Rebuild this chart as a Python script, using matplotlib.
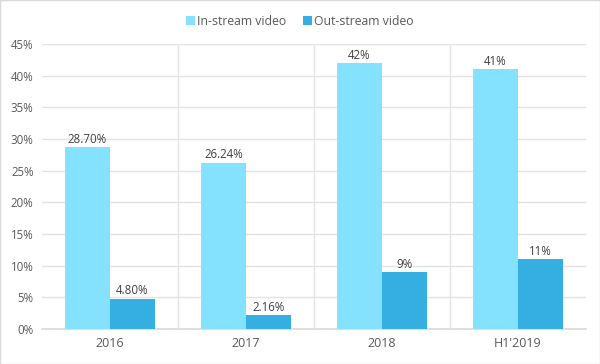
import matplotlib.pyplot as plt
import numpy as np
from matplotlib.ticker import FuncFormatter

categories = ["2016", "2017", "2018", "H1'2019"]
in_stream = [28.70, 26.24, 42, 41]
out_stream = [4.80, 2.16, 9, 11]
in_labels = ["28.70%", "26.24%", "42%", "41%"]
out_labels = ["4.80%", "2.16%", "9%", "11%"]

light = "#84E2FE"
dark = "#35AFE2"
text_col = "#595959"
grid_col = "#e3e3e3"

plt.rcParams['font.family'] = ['Open Sans', 'DejaVu Sans']

fig = plt.figure(figsize=(6, 3.64), dpi=100)
ax = fig.add_axes([42 / 600, 1 - 329 / 364, 544 / 600, 285 / 364])

x = np.arange(len(categories))
w = 0.33
b1 = ax.bar(x - w / 2, in_stream, w, color=light, label="In-stream video", zorder=3)
b2 = ax.bar(x + w / 2, out_stream, w, color=dark, label="Out-stream video", zorder=3)

for rect, lab in zip(b1, in_labels):
    ax.annotate(lab, (rect.get_x() + rect.get_width() / 2, rect.get_height()),
                xytext=(0, 1), textcoords="offset points", ha="center", va="bottom",
                fontsize=8.3, color="#404040")
for rect, lab in zip(b2, out_labels):
    ax.annotate(lab, (rect.get_x() + rect.get_width() / 2, rect.get_height()),
                xytext=(0, 1), textcoords="offset points", ha="center", va="bottom",
                fontsize=8.3, color="#404040")

ax.set_xlim(-0.5, len(categories) - 0.5)
ax.set_ylim(0, 45)
ax.set_yticks(np.arange(0, 46, 5))
ax.yaxis.set_major_formatter(FuncFormatter(lambda v, p: f"{v:.0f}%"))
ax.yaxis.grid(True, color=grid_col, linewidth=1, zorder=0)
for sep in np.arange(0.5, len(categories) - 0.5, 1):
    ax.axvline(sep, color=grid_col, linewidth=1, zorder=0)

ax.set_xticks(x)
ax.set_xticklabels(categories)
ax.tick_params(axis="both", length=0, colors=text_col, labelsize=8.3)
ax.tick_params(axis="x", pad=6, labelsize=9)
ax.tick_params(axis="y", pad=6)
for s in ["top", "right", "left"]:
    ax.spines[s].set_visible(False)
ax.spines["bottom"].set_color("#d9d9d9")
ax.spines["bottom"].set_linewidth(1.2)

fig.legend(loc="upper center", bbox_to_anchor=(0.5, 0.99), ncol=2, frameon=False,
           fontsize=8.8, handlelength=0.7, handleheight=0.7, handletextpad=0.2,
           columnspacing=1.4, labelcolor=text_col)

border = plt.Rectangle((0, 0), 1, 1, transform=fig.transFigure, fill=False,
                       edgecolor="#d9d9d9", linewidth=1)
fig.patches.append(border)

fig.savefig("out.png", dpi=100)
